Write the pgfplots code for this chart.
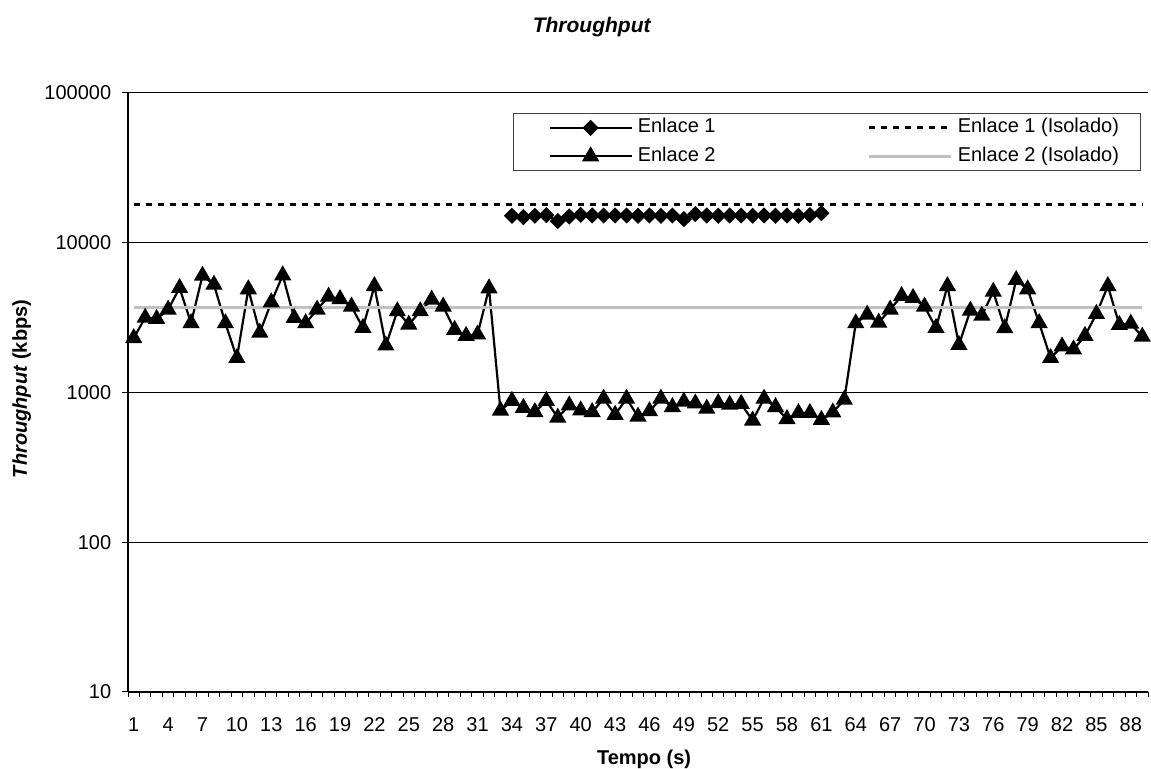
\documentclass[border=0pt]{standalone}
\usepackage{fontspec}
\setmainfont{Liberation Sans}
\usepackage{pgfplots}
\pgfplotsset{compat=1.18}
\definecolor{isogray}{RGB}{192,192,192}
\begin{document}
\begin{tikzpicture}
\path[use as bounding box] (0,0) rectangle (575.5bp,384.5bp);
\begin{axis}[
  at={(64bp,38.5bp)}, anchor=south west,
  scale only axis, width=510bp, height=299.5bp,
  xmin=0.5, xmax=89.5,
  ymode=log, ymin=10, ymax=100000,
  axis lines*=left,
  axis line style={line width=0.75bp, black},
  xtick={1,4,7,10,13,16,19,22,25,28,31,34,37,40,43,46,49,52,55,58,61,64,67,70,73,76,79,82,85,88},
  xticklabels={1,4,7,10,13,16,19,22,25,28,31,34,37,40,43,46,49,52,55,58,61,64,67,70,73,76,79,82,85,88},
  minor xtick={0.5,1.5,...,89.5},
  every major x tick/.append style={draw=none},
  ytick={10,100,1000,10000,100000},
  yticklabels={10,100,1000,10000,100000},
  yminorticks=false,
  tick align=outside,
  major tick length=2.8bp,
  minor tick length=2.5bp,
  tick style={black, line width=0.5bp},
  ymajorgrids,
  major grid style={black, line width=0.5bp},
  tick label style={font=\fontsize{10bp}{12bp}\selectfont},
  xticklabel style={anchor=base, inner sep=0pt, yshift=-17bp},
  yticklabel style={anchor=east, inner sep=0pt, xshift=-5.4bp},
  every axis title shift/.style={yshift=0pt},
  title={\itshape Throughput},
  title style={at={(0.4546,1.0905)}, anchor=center, font=\bfseries\fontsize{10.5bp}{12.5bp}\selectfont},
  xlabel={Tempo (s)},
  xlabel style={at={(0.506,-0.1125)}, anchor=center, font=\bfseries\fontsize{10bp}{12bp}\selectfont},
  ylabel={\textit{Throughput} (kbps)},
  ylabel style={at={(-0.1042,0.506)}, anchor=center, font=\bfseries\fontsize{10bp}{12bp}\selectfont},
  legend columns=2,
  legend cell align=left,
  legend style={at={(0.3775,0.9666)}, anchor=north west, draw=black!75, line width=0.5bp, fill=white,
    inner xsep=17.5bp, inner ysep=2.2bp, font=\fontsize{10bp}{12bp}\selectfont,
    nodes={inner sep=0pt, text height=7.5bp, text depth=2.5bp, anchor=west},
    /tikz/every odd column/.append style={column sep=2.5bp},
    /tikz/every even column/.append style={column sep=76.1bp},
    row sep=4.2bp},
  legend image code/.code={
    \draw[mark repeat=2,mark phase=2,#1] plot coordinates {(0bp,0bp) (20.5bp,0bp) (41bp,0bp)};
  },
]
\addplot[black, line width=1.1bp, mark=square*, mark size=2.3bp, mark options={rotate=45, solid}] coordinates {
(34,15140) (35,14830) (36,15140) (37,15290) (38,13950) (39,14980) (40,15370) (41,15210)
(42,15210) (43,15210) (44,15210) (45,15140) (46,15210) (47,15140) (48,15210) (49,14380)
(50,15530) (51,15210) (52,15140) (53,15210) (54,15210) (55,15140) (56,15210) (57,15140)
(58,15210) (59,15140) (60,15290) (61,15770)
};
\addlegendentry{Enlace 1}
\addplot[black, line width=1.4bp, dash pattern=on 3bp off 3bp] coordinates {(1,18000) (89,18000)};
\addlegendentry{Enlace 1 (Isolado)\hspace*{-6.5bp}}
\addplot[black, line width=1.1bp, mark=triangle*, mark size=3.9bp, mark options={solid}] coordinates {
(1,2310) (2,3160) (3,3100) (4,3580) (5,4990) (6,2910) (7,6030) (8,5250) (9,2900) (10,1700)
(11,4890) (12,2510) (13,4000) (14,6060) (15,3150) (16,2900) (17,3580) (18,4370) (19,4210) (20,3750)
(21,2700) (22,5140) (23,2060) (24,3490) (25,2840) (26,3490) (27,4170) (28,3750) (29,2620) (30,2390)
(31,2440) (32,4960) (33,758) (34,880) (35,790) (36,740) (37,880) (38,680) (39,820) (40,760)
(41,740) (42,910) (43,710) (44,910) (45,690) (46,750) (47,910) (48,800) (49,870) (50,845)
(51,780) (52,850) (53,830) (54,840) (55,650) (56,910) (57,800) (58,665) (59,730) (60,730)
(61,657) (62,736) (63,895) (64,2900) (65,3310) (66,2930) (67,3580) (68,4410) (69,4280) (70,3750)
(71,2700) (72,5140) (73,2080) (74,3520) (75,3260) (76,4710) (77,2690) (78,5640) (79,4890) (80,2910)
(81,1700) (82,2030) (83,1940) (84,2390) (85,3350) (86,5140) (87,2830) (88,2880) (89,2360)
};
\addlegendentry{Enlace 2}
\addplot[isogray, line width=1.5bp] coordinates {(1,3720) (89,3720)};
\addlegendentry{Enlace 2 (Isolado)\hspace*{-6.5bp}}
\end{axis}
\end{tikzpicture}
\end{document}
